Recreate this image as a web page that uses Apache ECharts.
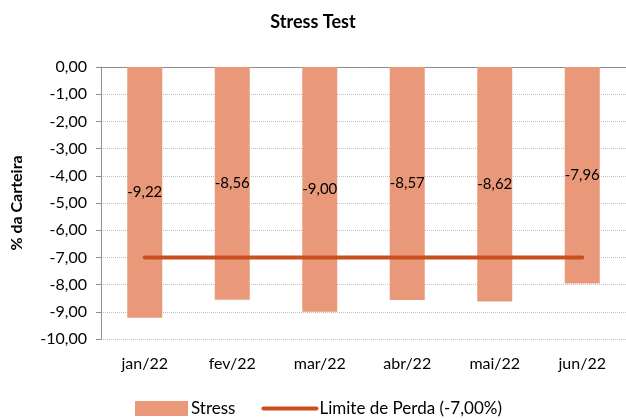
<!DOCTYPE html>
<html><head><meta charset="utf-8">
<script src="https://cdn.jsdelivr.net/npm/echarts@6/dist/echarts.min.js"></script>
<style>html,body{margin:0;padding:0;background:#fff}#c{width:626px;height:419px}</style>
</head><body><div id="c"></div>
<script>
const categories = ['jan/22','fev/22','mar/22','abr/22','mai/22','jun/22'];
const stressValues = [-9.22,-8.56,-9.00,-8.57,-8.62,-7.96];
const limitValues = [-7,-7,-7,-7,-7,-7];
const fmt = v => v.toFixed(2).replace('.', ',');
const FONT = 'Lato';
const chart = echarts.init(document.getElementById('c'));
chart.setOption({
  animation: false,
  textStyle: {fontFamily: FONT},
  title: {text: 'Stress Test', left: 'center', top: 8,
    textStyle: {fontFamily: FONT, fontSize: 18, fontWeight: 'bold', color: '#000'}},
  grid: {left: 101, right: -6, top: 67, bottom: 80},
  legend: {bottom: -3, left: 130, itemWidth: 53, itemHeight: 15, itemGap: 26,
    textStyle: {fontFamily: FONT, fontSize: 17, color: '#000', padding: [0, 0, 0, -2]},
    data: [{name: 'Stress', icon: 'rect'},
           {name: 'Limite de Perda (-7,00%)', itemStyle: {opacity: 0},
            lineStyle: {width: 4, color: '#C9501C', cap: 'round'}}]},
  xAxis: [{type: 'category', data: categories, position: 'top',
      axisLine: {show: true, lineStyle: {color: '#8c8c8c'}}, axisTick: {show: false}, axisLabel: {show: false}},
    {type: 'category', data: categories, position: 'bottom',
      axisLine: {show: false}, axisTick: {show: false},
      axisLabel: {fontFamily: FONT, fontSize: 16, color: '#000', margin: 17}}],
  yAxis: {type: 'value', min: -10, max: 0, interval: 1,
    name: '% da Carteira', nameLocation: 'middle', nameGap: 76, nameRotate: 90,
    nameTextStyle: {fontFamily: FONT, fontSize: 16, fontWeight: 'bold', color: '#000'},
    axisLine: {show: true, lineStyle: {color: '#8c8c8c'}},
    axisTick: {show: true, length: 5, lineStyle: {color: '#8c8c8c'}},
    axisLabel: {formatter: fmt, fontFamily: FONT, fontSize: 16, color: '#000', margin: 14},
    splitLine: {lineStyle: {type: 'dotted', color: '#bfbfbf'}}},
  series: [
    {name: 'Stress', type: 'bar', data: stressValues, barWidth: '40%',
      itemStyle: {color: '#EA987A'},
      label: {show: true, position: 'inside', formatter: p => fmt(p.value),
        fontFamily: FONT, fontSize: 15, color: '#000'}},
    {name: 'Limite de Perda (-7,00%)', type: 'line', data: limitValues,
      symbol: 'none', lineStyle: {color: '#C9501C', width: 4, cap: 'round'},
      itemStyle: {color: '#C9501C'}}
  ]
});
</script></body></html>
